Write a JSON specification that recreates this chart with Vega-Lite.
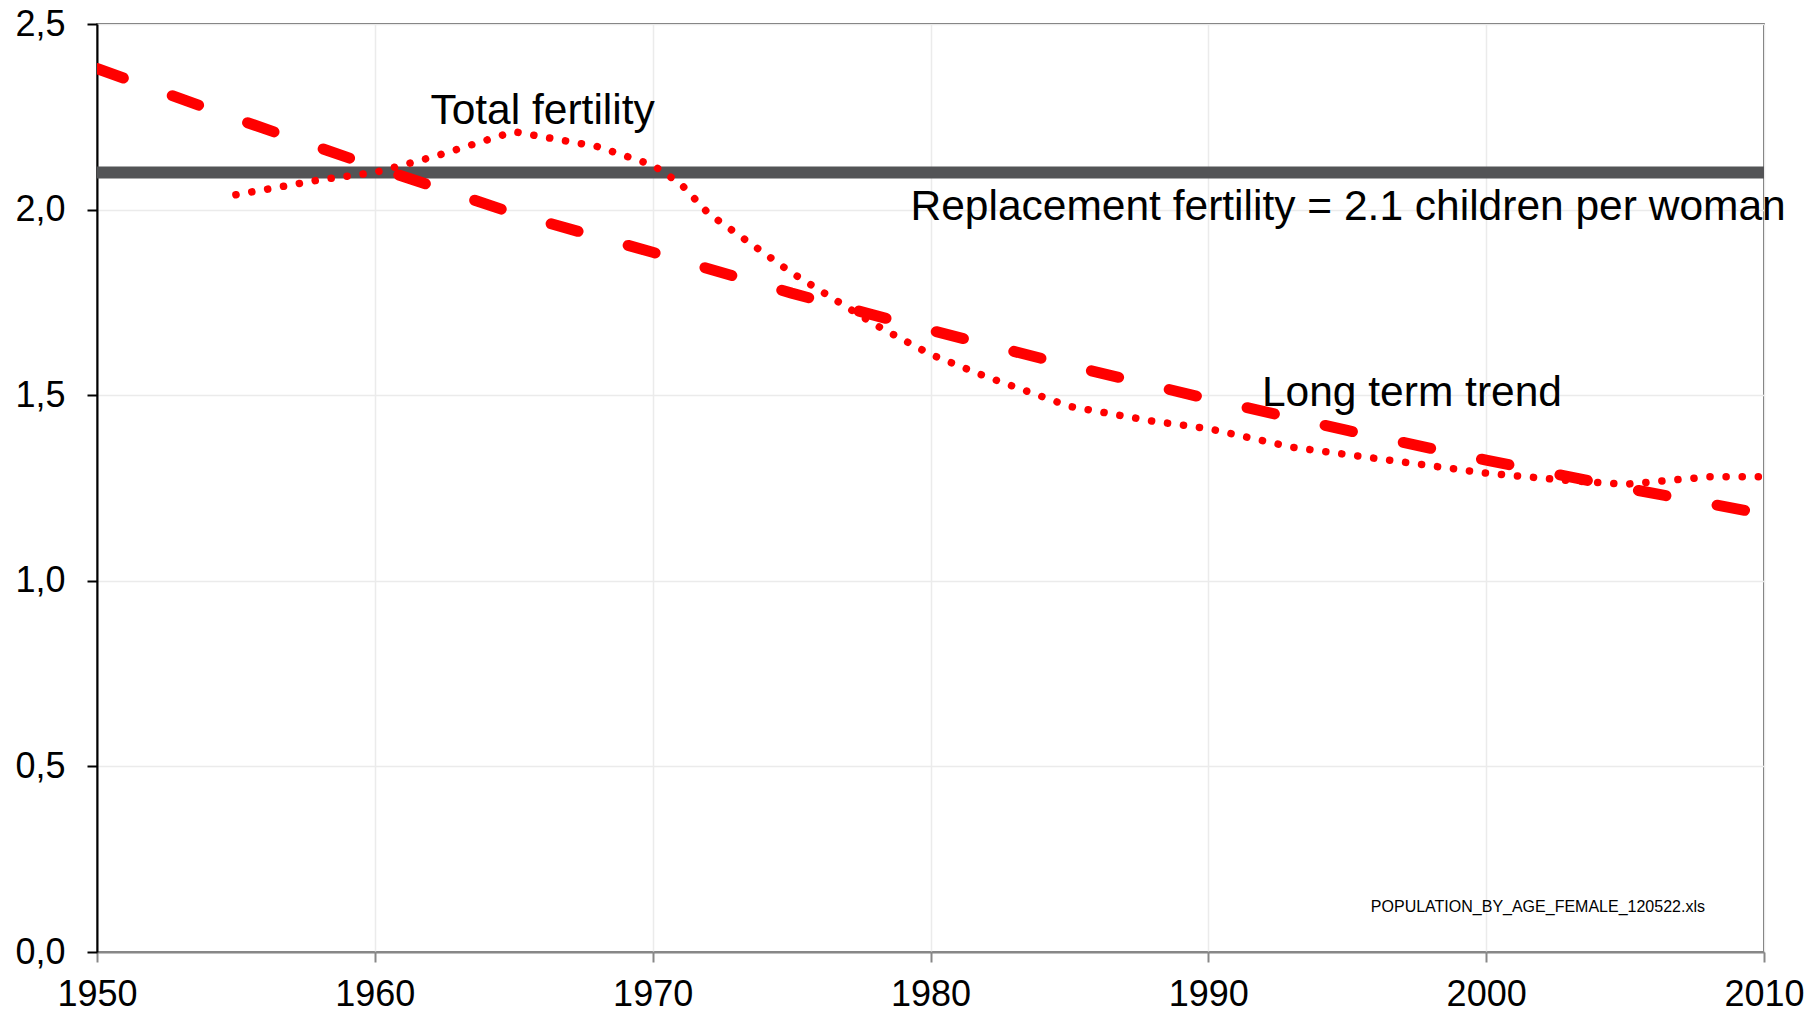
{
  "$schema": "https://vega.github.io/schema/vega-lite/v6.json",
  "autosize": {"type": "none"},
  "padding": {"left": 97, "top": 24, "right": 54, "bottom": 61},
  "width": 1667,
  "height": 928,
  "background": "white",
  "config": {
    "view": {"stroke": "#333333", "strokeWidth": 1.5},
    "font": "Liberation Sans"
  },
  "datasets": {
    "tfr": [
      {"year": 1955, "value": 2.04},
      {"year": 1958, "value": 2.08},
      {"year": 1960, "value": 2.10},
      {"year": 1962, "value": 2.14},
      {"year": 1965, "value": 2.21},
      {"year": 1968, "value": 2.17},
      {"year": 1970, "value": 2.12},
      {"year": 1971, "value": 2.07},
      {"year": 1972, "value": 1.99},
      {"year": 1975, "value": 1.83},
      {"year": 1978, "value": 1.69},
      {"year": 1980, "value": 1.61},
      {"year": 1982, "value": 1.55},
      {"year": 1985, "value": 1.47},
      {"year": 1988, "value": 1.43},
      {"year": 1990, "value": 1.41},
      {"year": 1993, "value": 1.36},
      {"year": 1995, "value": 1.34},
      {"year": 1998, "value": 1.31},
      {"year": 2000, "value": 1.29},
      {"year": 2003, "value": 1.27},
      {"year": 2005, "value": 1.26},
      {"year": 2008, "value": 1.28},
      {"year": 2010, "value": 1.28}
    ],
    "trend": [
      {"year": 1950, "value": 2.38},
      {"year": 1955, "value": 2.245},
      {"year": 1960, "value": 2.115},
      {"year": 1965, "value": 1.99},
      {"year": 1970, "value": 1.885},
      {"year": 1975, "value": 1.775},
      {"year": 1980, "value": 1.675},
      {"year": 1985, "value": 1.58},
      {"year": 1990, "value": 1.49},
      {"year": 1995, "value": 1.405},
      {"year": 2000, "value": 1.325},
      {"year": 2005, "value": 1.25},
      {"year": 2010, "value": 1.18}
    ],
    "replacement": [{"value": 2.1}],
    "labels": [
      {"year": 1962.0, "value": 2.231, "text": "Total fertility"},
      {"year": 1979.28, "value": 1.972, "text": "Replacement fertility = 2.1 children per woman"},
      {"year": 1991.93, "value": 1.4716, "text": "Long term trend"}
    ],
    "source": [
      {"year": 1995.85, "value": 0.1075, "text": "POPULATION_BY_AGE_FEMALE_120522.xls"}
    ]
  },
  "layer": [
    {
      "data": {"name": "replacement"},
      "mark": {"type": "rule", "color": "#535456", "strokeWidth": 12},
      "encoding": {
        "y": {
          "field": "value",
          "type": "quantitative",
          "scale": {"domain": [0, 2.5], "nice": false, "zero": true},
          "axis": {
            "values": [0, 0.5, 1, 1.5, 2, 2.5],
            "labelExpr": "replace(format(datum.value, '.1f'), '.', ',')",
            "title": null,
            "labelFontSize": 36,
            "labelFont": "Liberation Sans",
            "labelColor": "#000000",
            "labelPadding": 22,
            "tickColor": "#000000",
            "tickSize": 10,
            "tickWidth": 2,
            "domainColor": "#000000",
            "domainWidth": 2,
            "grid": true,
            "gridColor": "#ebebeb",
            "gridWidth": 1.5,
            "labelOverlap": false,
            "labelFlush": false
          }
        }
      }
    },
    {
      "data": {"name": "tfr"},
      "mark": {"type": "line", "color": "#ff0000", "strokeWidth": 7.5, "strokeDash": [0.1, 16], "strokeCap": "round", "clip": true},
      "encoding": {
        "x": {
          "field": "year",
          "type": "quantitative",
          "scale": {"domain": [1950, 2010], "nice": false, "zero": false},
          "axis": {
            "values": [1950, 1960, 1970, 1980, 1990, 2000, 2010],
            "format": "d",
            "title": null,
            "labelFontSize": 36,
            "labelFont": "Liberation Sans",
            "labelColor": "#000000",
            "labelPadding": 15,
            "tickColor": "#888888",
            "tickSize": 10,
            "tickWidth": 2,
            "domainColor": "#888888",
            "domainWidth": 2,
            "grid": true,
            "gridColor": "#ebebeb",
            "gridWidth": 1.5,
            "labelOverlap": false,
            "labelFlush": false
          }
        },
        "y": {"field": "value", "type": "quantitative"}
      }
    },
    {
      "data": {"name": "trend"},
      "mark": {"type": "line", "color": "#ff0000", "strokeWidth": 11, "strokeDash": [28, 52], "strokeCap": "round", "clip": true},
      "encoding": {
        "x": {"field": "year", "type": "quantitative"},
        "y": {"field": "value", "type": "quantitative"}
      }
    },
    {
      "data": {"name": "labels"},
      "mark": {"type": "text", "align": "left", "baseline": "alphabetic", "fontSize": 42.5, "font": "Liberation Sans", "color": "#000000"},
      "encoding": {
        "x": {"field": "year", "type": "quantitative"},
        "y": {"field": "value", "type": "quantitative"},
        "text": {"field": "text"}
      }
    },
    {
      "data": {"name": "source"},
      "mark": {"type": "text", "align": "left", "baseline": "alphabetic", "fontSize": 16, "font": "Liberation Sans", "color": "#000000"},
      "encoding": {
        "x": {"field": "year", "type": "quantitative"},
        "y": {"field": "value", "type": "quantitative"},
        "text": {"field": "text"}
      }
    }
  ]
}
